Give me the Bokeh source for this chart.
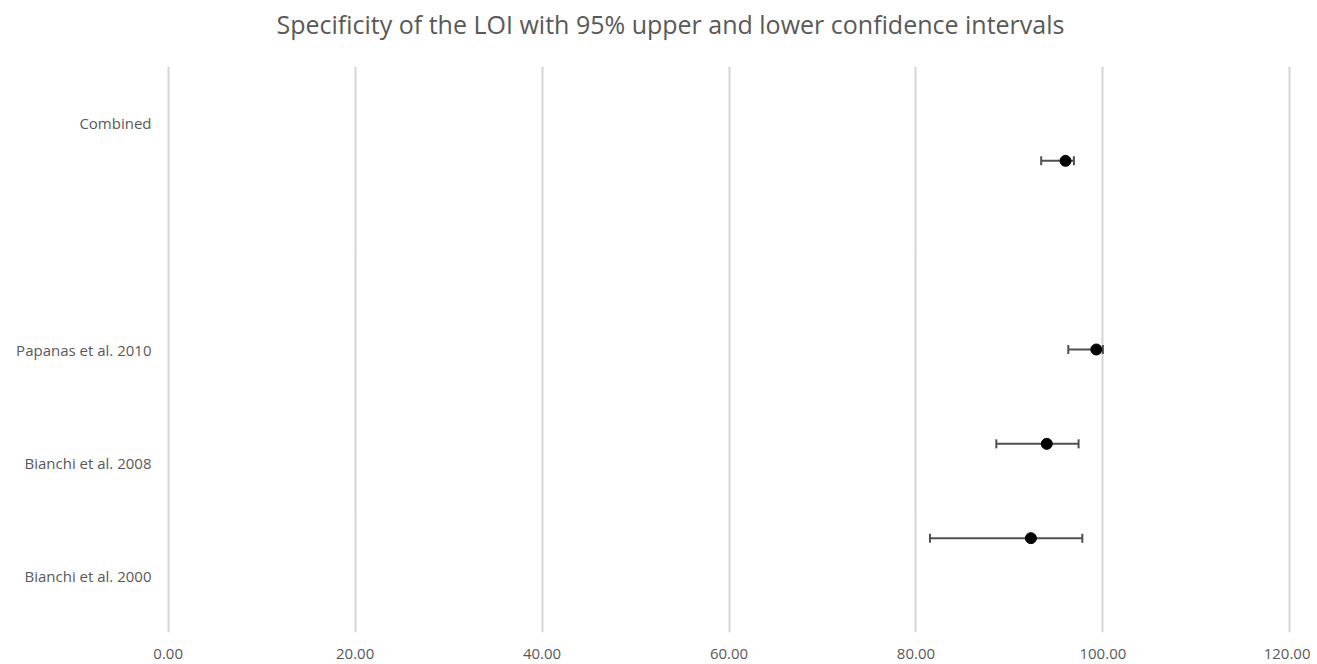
from bokeh.plotting import figure
from bokeh.models import ColumnDataSource, Whisker, TeeHead, FixedTicker, NumeralTickFormatter, Range1d, Title
from bokeh.embed import file_html
from bokeh.resources import INLINE

# Data
title_text = "Specificity  of the LOI with 95% upper and lower confidence intervals"
studies = ["Bianchi et al. 2000", "Bianchi et al. 2008", "Papanas et al. 2010", "Combined"]
specificity = [92.3, 94.0, 99.3, 96.0]
lower_ci = [81.5, 88.6, 96.3, 93.4]
upper_ci = [97.8, 97.4, 100.0, 96.9]
point_y = [1, 2, 3, 5]
label_y = [0.6, 1.8, 3.0, 5.4]
x_ticks = [0, 20, 40, 60, 80, 100, 120]

TXT = "#595959"
FONT = "Open Sans"

p = figure(width=1310, height=664, output_backend="svg", toolbar_location=None,
           x_range=Range1d(-0.5, 120.5), y_range=Range1d(0, 6),
           min_border_left=163, min_border_right=16, min_border_top=66, min_border_bottom=32,
           title=title_text)
p.outline_line_color = None
p.background_fill_color = "white"
p.border_fill_color = "white"

# spacer between title and frame
p.add_layout(Title(text=" ", text_font_size="1px", standoff=23), "above")

p.title.align = "left"
p.title.offset = 113
p.title.text_font = FONT
p.title.text_font_size = "25px"
p.title.text_font_style = "normal"
p.title.text_color = TXT
p.title.standoff = 0

src = ColumnDataSource(dict(x=specificity, y=point_y, lo=lower_ci, hi=upper_ci))
w = Whisker(source=src, base="y", lower="lo", upper="hi", dimension="width",
            line_color="#505050", line_width=2,
            lower_head=TeeHead(size=9, line_color="#505050", line_width=2),
            upper_head=TeeHead(size=9, line_color="#505050", line_width=2))
p.add_layout(w)
p.scatter("x", "y", source=src, size=11, color="black")

p.xaxis.ticker = FixedTicker(ticks=x_ticks)
p.xaxis.formatter = NumeralTickFormatter(format="0.00")
p.xaxis.axis_line_color = None
p.xaxis.major_tick_line_color = None
p.xaxis.minor_tick_line_color = None
p.xaxis.major_label_text_font = FONT
p.xaxis.major_label_text_font_size = "15px"
p.xaxis.major_label_text_color = TXT
p.xaxis.major_label_standoff = 10

p.yaxis.ticker = FixedTicker(ticks=label_y)
p.yaxis.major_label_overrides = {ly: s for ly, s in zip(label_y, studies)}
p.yaxis.axis_line_color = None
p.yaxis.major_tick_line_color = None
p.yaxis.minor_tick_line_color = None
p.yaxis.major_label_text_font = FONT
p.yaxis.major_label_text_font_size = "15px"
p.yaxis.major_label_text_color = TXT
p.yaxis.major_label_standoff = 6

p.xgrid.grid_line_color = "#d4d4d4"
p.xgrid.grid_line_width = 2
p.ygrid.grid_line_color = None

open("out.html", "w").write(file_html(p, INLINE))
